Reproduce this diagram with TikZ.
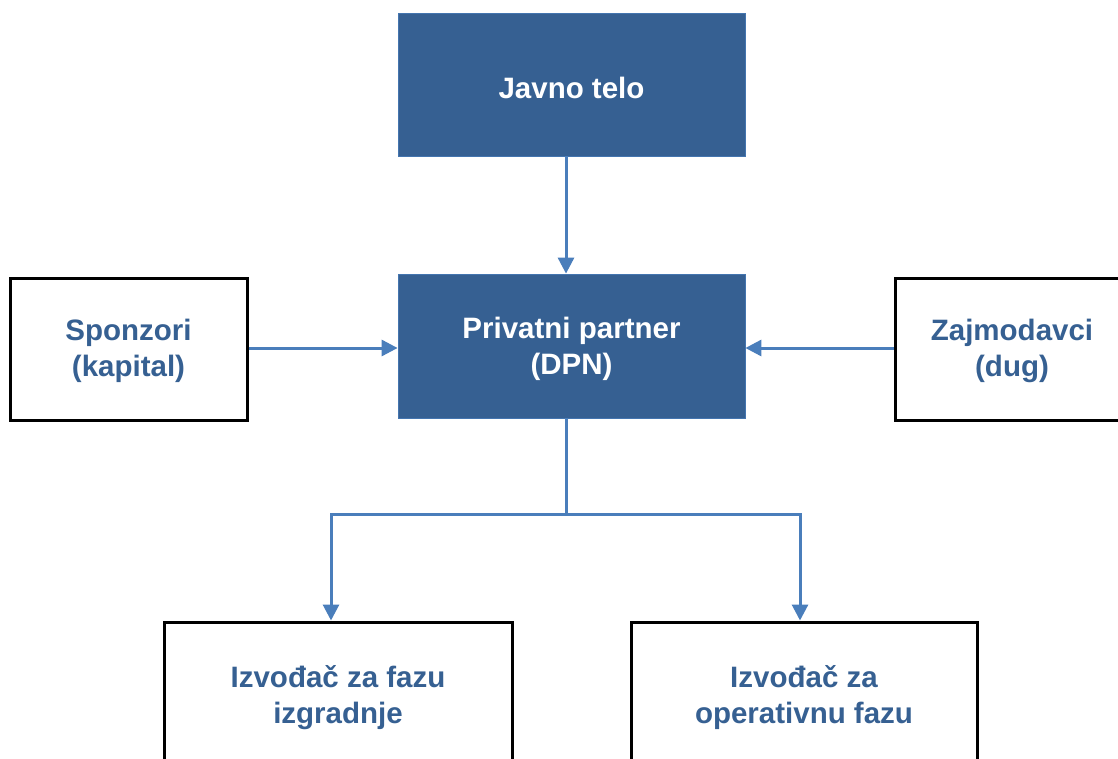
\documentclass[tikz,border=0pt]{standalone}
\usepackage{fontspec}
\setmainfont{Liberation Sans}
\usetikzlibrary{arrows.meta}
\definecolor{boxblue}{HTML}{366092}
\definecolor{linkblue}{HTML}{4A7EBB}
\tikzset{
  lbl/.style={font=\bfseries\fontsize{29.5}{36}\selectfont, align=center, inner sep=0pt},
  solidbox/.style={fill=boxblue, draw=linkblue!70!boxblue, line width=0.8pt, minimum width=347pt, minimum height=143pt, inner sep=0pt},
  openbox/.style={draw=black, line width=3pt, fill=white, inner sep=0pt},
  whitelbl/.style={lbl, text=white},
  bluelbl/.style={lbl, text=boxblue},
  link/.style={draw=linkblue, line width=3pt},
  arr/.style={link, -{Triangle[length=16pt,width=16pt]}}
}
\begin{document}
\begin{tikzpicture}[x=1pt, y=-1pt]
  \clip (0,0) rectangle (1118,759);
  \fill[white] (0,0) rectangle (1118,759);

  % central column
  \node[solidbox] (javno) at (571.5,84.5) {};
  \node[solidbox, minimum height=144pt] (priv) at (571.5,346) {};

  % financing side boxes
  \node[openbox, minimum width=237pt, minimum height=142pt] (spon) at (128.5,349) {};
  \node[openbox, minimum width=234pt, minimum height=142pt] (zajm) at (1012,349) {};

  % contractors, running past the lower edge
  \node[openbox, minimum width=348pt, minimum height=146pt] (izg) at (338,695) {};
  \node[openbox, minimum width=346pt, minimum height=146pt] (oper) at (804,695) {};

  % box captions
  \node[whitelbl] (javnoT) at ([yshift=-3pt]javno.center) {Javno telo};
  \node[whitelbl] (privT) at ([yshift=-3pt]priv.center) {Privatni partner\\(DPN)};
  \node[bluelbl] (sponT) at ([yshift=-2pt]spon.center) {Sponzori\\(kapital)};
  \node[bluelbl] (zajmT) at ([yshift=-2pt]zajm.center) {Zajmodavci\\(dug)};
  \node[bluelbl] (izgT) at ([yshift=-3pt]izg.center) {Izvođač za fazu\\izgradnje};
  \node[bluelbl] (operT) at ([yshift=-3pt]oper.center) {Izvođač za\\operativnu fazu};

  % connectors
  \draw[arr] ([xshift=-5.5pt]javno.south) -- ([xshift=-5.5pt]priv.north);
  \draw[arr] (spon.east |- 0,348) -- (priv.west |- 0,348);
  \draw[arr] (zajm.west |- 0,348) -- (priv.east |- 0,348);

  \coordinate (split) at (566,514);
  \draw[link] ([xshift=-5.5pt]priv.south) -- (split);
  \draw[arr] (split) -| ([xshift=-7pt]izg.north);
  \draw[arr] (split) -| ([xshift=-4pt]oper.north);
\end{tikzpicture}
\end{document}
